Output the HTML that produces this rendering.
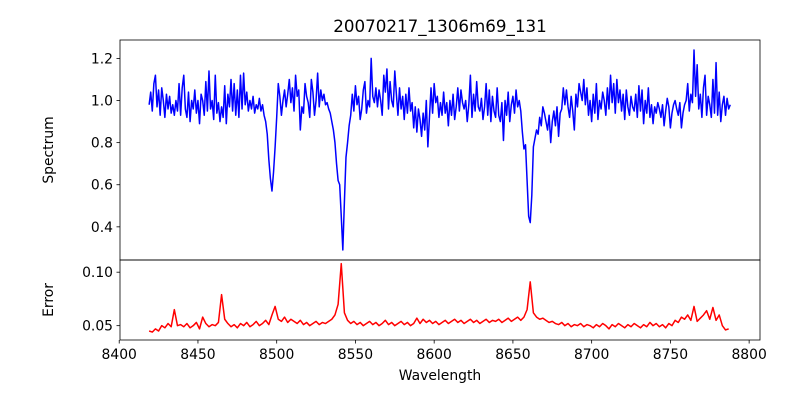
<!DOCTYPE html>
<html><head><meta charset="utf-8"><style>
body{margin:0;background:#fff}
svg text{font-family:"DejaVu Sans","Liberation Sans",sans-serif;fill:#000}
</style></head><body>
<svg id="chart" width="800" height="400" xmlns="http://www.w3.org/2000/svg">
<rect width="800" height="400" fill="#fff"/>
<text x="440" y="32" font-size="16.7" text-anchor="middle">20070217_1306m69_131</text>
<g id="gTop"></g><g id="gBot"></g>
<text transform="translate(53,150) rotate(-90)" font-size="13.9" text-anchor="middle">Spectrum</text>
<text transform="translate(53,300) rotate(-90)" font-size="13.9" text-anchor="middle">Error</text>
<text x="440" y="380" font-size="13.9" text-anchor="middle">Wavelength</text>
</svg>
<script>
const specStart = 8419, specStep = 1;
const spectrum = [
0.98,1.04,0.95,1.08,1.12,0.97,1.05,0.93,1.06,1.0,
0.92,1.03,0.96,1.02,0.94,0.98,0.93,1.00,0.95,1.08,
0.93,1.06,1.12,0.96,0.92,1.04,0.90,1.0,0.96,1.05,
0.94,1.0,0.89,1.03,1.00,0.93,1.09,0.95,1.14,0.96,
1.0,0.91,1.12,0.94,0.99,0.90,0.97,0.92,1.07,0.89,
1.03,0.97,1.10,0.95,1.08,0.93,1.05,0.92,1.12,0.96,
1.13,0.98,1.04,0.95,1.0,0.96,1.02,0.94,0.98,0.96,
1.01,0.95,0.98,0.93,0.90,0.84,0.72,0.63,0.57,0.66,
0.78,0.92,1.08,1.02,0.93,1.0,1.05,0.97,1.03,1.1,
0.99,1.06,0.95,1.12,1.02,1.05,0.86,0.97,0.94,1.08,
1.02,0.99,0.92,1.1,1.04,0.93,1.0,1.13,0.97,1.05,
1.0,1.03,0.98,0.99,0.96,0.94,0.90,0.86,0.80,0.70,
0.62,0.60,0.45,0.29,0.52,0.73,0.80,0.88,0.93,1.03,
0.95,1.07,0.98,1.02,0.91,0.96,1.05,1.09,0.94,1.0,
0.97,1.2,1.02,0.99,1.06,0.97,1.05,1.0,0.93,1.12,
1.04,1.15,0.96,1.09,1.0,0.97,1.14,1.03,0.93,1.06,
0.96,1.02,0.91,1.03,0.94,1.06,0.95,0.99,0.87,0.97,
0.85,0.96,0.91,0.83,0.94,0.86,1.0,0.78,0.92,1.06,
0.94,1.08,0.99,1.02,0.92,0.99,0.93,1.04,0.94,0.99,
0.88,1.0,0.93,1.03,0.91,0.97,1.06,0.95,1.05,0.99,
0.96,1.0,0.90,0.98,1.12,0.92,1.03,0.95,1.09,0.97,
0.95,1.01,0.91,0.97,1.08,0.93,1.05,0.90,1.02,0.95,
0.92,1.06,0.93,0.90,0.99,0.81,1.0,0.93,1.04,0.90,
0.98,1.02,0.94,1.05,0.97,1.0,0.95,0.85,0.77,0.79,
0.62,0.45,0.42,0.55,0.78,0.82,0.86,0.84,0.92,0.88,
0.97,0.94,0.90,0.86,0.93,0.80,0.90,0.95,0.88,0.97,
0.83,0.94,0.96,1.06,0.98,1.05,0.97,0.92,1.02,0.95,
0.86,1.03,0.97,1.08,1.04,1.0,1.10,0.98,1.06,0.93,
1.0,0.90,1.03,0.94,1.08,0.91,1.0,0.96,1.04,1.0,
0.93,1.06,0.96,1.12,0.99,1.08,0.94,1.1,0.99,1.05,
0.95,1.03,0.91,1.05,0.97,0.93,1.02,0.97,0.95,1.03,
0.92,1.07,0.95,1.05,0.89,1.0,0.94,1.06,0.92,0.98,
0.89,0.97,0.94,0.99,0.96,0.92,0.98,0.88,0.95,1.01,
0.97,0.87,0.94,0.98,1.0,0.96,0.93,0.99,0.87,0.94,
0.98,1.0,1.08,0.95,1.03,0.99,1.24,1.02,1.17,0.96,
1.03,0.92,1.06,1.12,0.93,1.02,0.98,0.92,1.10,0.94,
1.18,0.93,1.04,0.90,0.98,1.02,0.93,1.01,0.96,0.98];
const errStart = 8419, errStep = 2;
const errors = [
.045,.044,.047,.045,.050,.048,.052,.049,.065,.050,
.051,.049,.052,.048,.050,.053,.047,.058,.052,.049,
.051,.050,.053,.079,.056,.052,.049,.051,.048,.052,
.050,.053,.049,.051,.054,.050,.052,.055,.051,.060,
.068,.056,.054,.058,.053,.056,.054,.052,.055,.051,
.053,.050,.052,.054,.051,.053,.052,.054,.056,.060,
.070,.108,.062,.055,.052,.054,.051,.053,.050,.052,
.054,.051,.053,.050,.052,.055,.051,.053,.050,.052,
.054,.051,.053,.050,.052,.057,.052,.056,.053,.055,
.052,.054,.051,.053,.055,.052,.054,.056,.053,.055,
.052,.054,.056,.053,.055,.052,.054,.056,.053,.055,
.054,.056,.053,.055,.057,.054,.056,.058,.055,.058,
.065,.091,.062,.058,.056,.057,.055,.053,.054,.052,
.051,.053,.050,.052,.049,.051,.050,.052,.049,.051,
.050,.048,.051,.049,.052,.050,.047,.051,.049,.052,
.050,.048,.051,.049,.052,.050,.048,.051,.049,.053,
.050,.052,.049,.051,.048,.052,.050,.055,.053,.058,
.056,.060,.055,.068,.054,.057,.060,.064,.056,.067,
.055,.060,.050,.046,.047];
const xTicks = [8400,8450,8500,8550,8600,8650,8700,8750,8800];
const topTicks = [0.4,0.6,0.8,1.0,1.2];
const botTicks = [0.05,0.10];

const NS="http://www.w3.org/2000/svg";
const L=120,R=760,xMin=8400.5,xMax=8806.9;
const X=v=>L+(v-xMin)/(xMax-xMin)*(R-L);
function mkY(lo,hi,top,bot){return v=>bot-(v-lo)/(hi-lo)*(bot-top);}
function el(tag,attrs,parent){const e=document.createElementNS(NS,tag);for(const k in attrs)e.setAttribute(k,attrs[k]);parent.appendChild(e);return e;}
function panel(g,top,bot,lo,hi,vals,start,step,color,ticks,fmt,name){
  const Y=mkY(lo,hi,top,bot);
  const pts=vals.map((v,i)=>X(start+i*step).toFixed(2)+","+Y(v).toFixed(2)).join(" ");
  const line=el("polyline",{points:pts,fill:"none",stroke:color,"stroke-width":1.5,"stroke-linejoin":"round"},g);
  
  
  ticks.forEach(t=>{
    const y=Y(t);
    el("line",{x1:L-3.5,x2:L,y1:y,y2:y,stroke:"#000","stroke-width":0.8},g);
    const tx=el("text",{x:L-7,y:y+5,"font-size":13.9,"text-anchor":"end"},g);
    tx.textContent=fmt(t);
    
    
  });
  const fr=el("rect",{x:L,y:top,width:R-L,height:bot-top,fill:"none",stroke:"#000","stroke-width":0.8},g);
  
  
}
const gT=document.getElementById("gTop"),gB=document.getElementById("gBot");
panel(gT,40,260,0.2425,1.2875,spectrum,specStart,specStep,"#0000ff",topTicks,t=>t.toFixed(1),"spectrum");
panel(gB,260,340,0.0366,0.1114,errors,errStart,errStep,"#ff0000",botTicks,t=>t.toFixed(2),"error");
xTicks.forEach(t=>{
  const x=X(t);
  el("line",{x1:x,x2:x,y1:340,y2:343.5,stroke:"#000","stroke-width":0.8},gB);
  const tx=el("text",{x:x,y:359,"font-size":13.9,"text-anchor":"middle"},gB);
  tx.textContent=t;
  
  
});
</script>
</body></html>
